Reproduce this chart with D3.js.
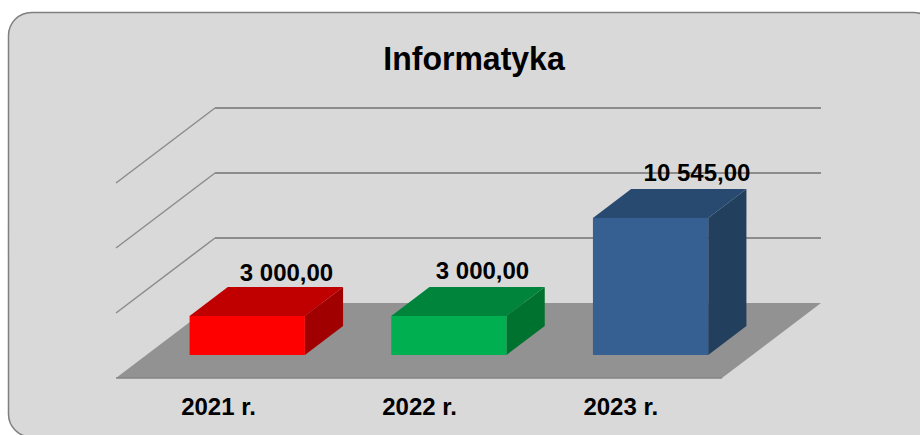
<!DOCTYPE html>
<html><head><meta charset="utf-8">
<script src="https://cdn.jsdelivr.net/npm/d3@7/dist/d3.min.js"></script>
<style>html,body{margin:0;padding:0;background:#fff}svg{display:block}text{font-family:"Liberation Sans",Arial,sans-serif;font-weight:bold;fill:#000}</style>
</head><body><svg id="c" width="920" height="435"></svg>
<script>
const categories = ["2021 r.", "2022 r.", "2023 r."];
const values = [3000, 3000, 10545];
const valueLabels = ["3 000,00", "3 000,00", "10 545,00"];
const gridTicks = [5000, 10000, 15000];
const frontColors = ["#ff0000", "#00b050", "#376092"];
const topColors = ["#c00000", "#00843c", "#284a70"];
const sideColors = ["#a00000", "#00722f", "#233f5e"];
const title = "Informatyka";

const svg = d3.select("#c");
// chart frame
svg.append("rect").attr("x", 8.5).attr("y", 12.5).attr("width", 928).attr("height", 424.5).attr("rx", 23)
  .attr("fill", "#d9d9d9").attr("stroke", "#7f7f7f").attr("stroke-width", 1.5);

const x = d3.scaleBand().domain(categories).range([116, 721]);
const labelX = d3.scalePoint().domain(categories).range([218.5, 620.8]);
const y = d3.scaleLinear().domain([0, 15000]).range([0, 195]);
const depthX = d3.scaleLinear().domain([0, 1]).range([0, 99]);
const depthY = d3.scaleLinear().domain([0, 1]).range([378, 303]);
const z0 = 0.307, z1 = 0.693, inset = 43.2;
const pt = (px, d, v) => [px + depthX(d), depthY(d) - y(v)];
const left = 116, right = 722;
const line = d3.line();

// floor
svg.append("path").attr("d", line([pt(left,0,0), pt(right,0,0), pt(right,1,0), pt(left,1,0)]) + "Z").attr("fill", "#929292");
svg.append("path").attr("d", line([pt(left,0,0), pt(right,0,0)])).attr("stroke", "#858585").attr("stroke-width", 1.5).attr("fill", "none");

// gridlines
gridTicks.forEach(t => {
  svg.append("path").attr("d", line([pt(left,0,t), pt(left,1,t)]))
    .attr("fill", "none").attr("stroke", "#8c8c8c").attr("stroke-width", 1.5);
  svg.append("path").attr("d", line([pt(left,1,t), pt(right,1,t)]))
    .attr("fill", "none").attr("stroke", "#8c8c8c").attr("stroke-width", 1.8);
});

// bars
categories.forEach((c, i) => {
  const a = x(c) + inset, b = x(c) + x.bandwidth() - inset, v = values[i];
  svg.append("path").attr("d", line([pt(b,z0,0), pt(b,z1,0), pt(b,z1,v), pt(b,z0,v)]) + "Z").attr("fill", sideColors[i]);
  svg.append("path").attr("d", line([pt(a,z0,v), pt(b,z0,v), pt(b,z1,v), pt(a,z1,v)]) + "Z").attr("fill", topColors[i]);
  const f0 = pt(a,z0,v), f1 = pt(b,z0,0);
  svg.append("rect").attr("x", f0[0]).attr("y", f0[1]).attr("width", f1[0]-f0[0]).attr("height", f1[1]-f0[1]).attr("fill", frontColors[i]);
});

// labels
const labelOffsets = [[286.5, 281], [482.5, 279], [697, 181]];
svg.selectAll(".v").data(valueLabels).join("text").attr("class", "v")
  .attr("x", (d,i) => labelOffsets[i][0]).attr("y", (d,i) => labelOffsets[i][1])
  .attr("text-anchor", "middle").attr("font-size", 24).text(d => d);
svg.selectAll(".c").data(categories).join("text").attr("class", "c")
  .attr("x", d => labelX(d)).attr("y", 415)
  .attr("text-anchor", "middle").attr("font-size", 24).text(d => d);
svg.append("text").attr("transform", "translate(474,70) scale(1,1.06)").attr("text-anchor", "middle").attr("font-size", 32).text(title);
</script></body></html>
